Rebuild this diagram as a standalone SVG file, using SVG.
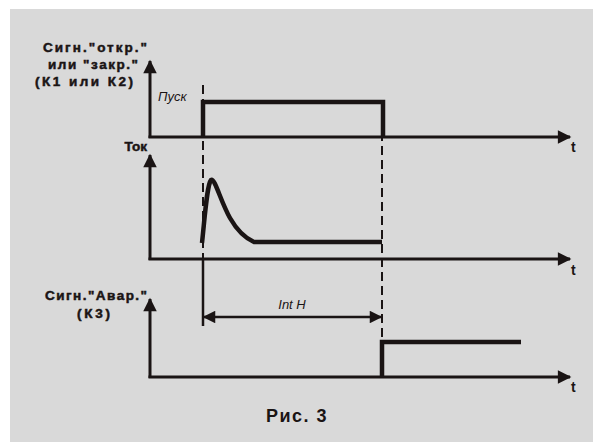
<svg xmlns="http://www.w3.org/2000/svg" width="593" height="442" viewBox="0 0 593 442">
<defs>
<style>
.ax{stroke:#1a1414;stroke-width:3;fill:none}
.sig{stroke:#1a1414;stroke-width:4.5;fill:none}
.dash{stroke:#1a1414;stroke-width:2;fill:none;stroke-dasharray:9 5}
.solid{stroke:#1a1414;stroke-width:2.5;fill:none}
.lbl{font-family:"Liberation Sans",Arial,sans-serif;font-weight:bold;font-size:13.5px;fill:#1a1414;stroke:#1a1414;stroke-width:0.5}
.it{font-family:"Liberation Sans",Arial,sans-serif;font-style:italic;font-size:13px;fill:#1a1414}
.t{font-family:"Liberation Sans",Arial,sans-serif;font-weight:bold;font-size:14px;fill:#1a1414}
</style>
<marker id="ah" viewBox="0 0 10 10" refX="9" refY="5" markerWidth="5.5" markerHeight="4.5" markerUnits="strokeWidth" orient="auto">
<path d="M0,0 L10,5 L0,10 z" fill="#1a1414"/>
</marker>
<marker id="dh" viewBox="0 0 10 10" refX="9" refY="5" markerWidth="6" markerHeight="5" markerUnits="strokeWidth" orient="auto-start-reverse">
<path d="M0,0 L10,5 L0,10 z" fill="#1a1414"/>
</marker>
</defs>
<rect x="10" y="9" width="583" height="433" fill="#d9d9d9"/>
<g id="connectors">
<line class="dash" x1="203" y1="85" x2="203" y2="260"/>
<line class="solid" x1="203" y1="258" x2="203" y2="326"/>
<line class="dash" x1="382" y1="104" x2="382" y2="342"/>
<line class="solid" x1="204" y1="317" x2="381" y2="317" marker-start="url(#dh)" marker-end="url(#dh)"/>
</g>
<g id="chart1">
<line class="ax" x1="150" y1="138" x2="150" y2="61" marker-end="url(#ah)"/>
<line class="ax" x1="148.5" y1="137" x2="570" y2="137" marker-end="url(#ah)"/>
<path class="sig" d="M203,137 V102 H383 V137"/>
<text class="lbl" x="43" y="52" textLength="104" lengthAdjust="spacing">Сигн."откр."</text>
<text class="lbl" x="48" y="69" textLength="90" lengthAdjust="spacing">или "закр."</text>
<text class="lbl" x="35" y="86" textLength="98" lengthAdjust="spacing">(К1 или К2)</text>
<text class="it" x="158" y="101">Пуск</text>
<text class="t" x="571" y="152">t</text>
</g>
<g id="chart2">
<line class="ax" x1="150" y1="260" x2="150" y2="155" marker-end="url(#ah)"/>
<line class="ax" x1="148.5" y1="259" x2="570" y2="259" marker-end="url(#ah)"/>
<path class="sig" d="M202,243 C205,215 207,185 211,180 C215,178 220,200 230,218 C238,232 245,238 254,242 H382"/>
<text class="lbl" x="147" y="151" text-anchor="end">Ток</text>
<text class="t" x="571" y="275">t</text>
</g>
<g id="chart3">
<line class="ax" x1="150" y1="378" x2="150" y2="299" marker-end="url(#ah)"/>
<line class="ax" x1="148.5" y1="377" x2="570" y2="377" marker-end="url(#ah)"/>
<path class="sig" d="M382,377 V342 H521"/>
<text class="lbl" x="45" y="300" textLength="102" lengthAdjust="spacing">Сигн."Авар."</text>
<text class="lbl" x="77" y="318" textLength="33" lengthAdjust="spacing">(К3)</text>
<text class="it" x="292" y="309" text-anchor="middle">Int H</text>
<text class="t" x="571" y="392">t</text>
</g>
<text x="297" y="422" text-anchor="middle" font-family="'Liberation Sans',Arial,sans-serif" font-weight="bold" font-size="18" fill="#1a1414" letter-spacing="1.5">Рис. 3</text>
</svg>
